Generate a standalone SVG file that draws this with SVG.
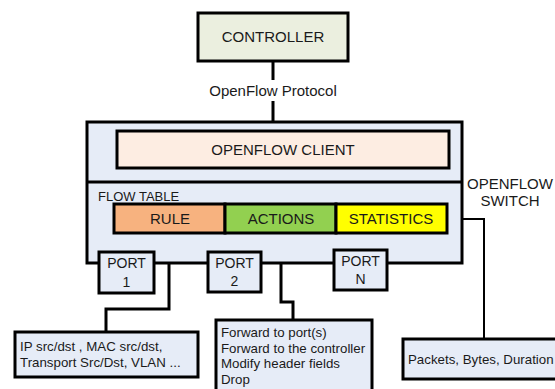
<svg xmlns="http://www.w3.org/2000/svg" width="555" height="389" viewBox="0 0 555 389">
<style>
text{font-family:"Liberation Sans",Arial,sans-serif;fill:#1a1a1a}
.b{stroke:#000;stroke-width:3}
.ln{fill:none;stroke:#000;stroke-width:3}
.thin{fill:none;stroke:#000;stroke-width:2}
.c{text-anchor:middle}
.f15{font-size:15px}
.f14{font-size:14px}
.f13{font-size:13.3px}
</style>
<rect width="555" height="389" fill="#fff"/>
<g id="connectors">
<path class="ln" d="M273,61V80M273,101V122"/>
<path class="ln" d="M169,233V309H106V332"/>
<path class="ln" d="M281,233V302H293V320"/>
<path class="thin" d="M447,219H484V339"/>
</g>
<text class="c f15" x="273" y="96">OpenFlow Protocol</text>
<g id="controller">
<rect class="b" x="198" y="13" width="150" height="48" fill="#ebefdf"/>
<text class="c f15" x="273" y="42">CONTROLLER</text>
</g>
<g id="switch">
<rect class="b" x="87" y="122" width="375" height="141" fill="#e6ecf7"/>
<line class="ln" x1="87" y1="182" x2="462" y2="182"/>
<text x="98" y="201" style="font-size:13px">FLOW TABLE</text>
</g>
<g id="switch-label">
<text class="c f15" x="510" y="189">OPENFLOW</text>
<text class="c f15" x="510" y="206">SWITCH</text>
</g>
<g id="client">
<rect class="b" x="117" y="131" width="332" height="37" fill="#fdede2"/>
<text class="c f15" x="283" y="155">OPENFLOW CLIENT</text>
</g>
<g id="rule">
<rect class="b" x="114" y="204" width="111" height="29" fill="#f7b27f"/>
<text class="c f15" x="170" y="224">RULE</text>
</g>
<g id="actions">
<rect class="b" x="225" y="204" width="111" height="29" fill="#92d050"/>
<text class="c f15" x="281" y="224">ACTIONS</text>
</g>
<g id="statistics">
<rect class="b" x="336" y="204" width="111" height="29" fill="#ffff00"/>
<text class="c f15" x="391" y="224">STATISTICS</text>
</g>
<g id="port1">
<rect class="b" x="99" y="252" width="55" height="41" fill="#e6ecf7"/>
<text class="c f14" x="126.5" y="268">PORT</text>
<text class="c f14" x="126.5" y="287">1</text>
</g>
<g id="port2">
<rect class="b" x="208" y="252" width="53" height="40" fill="#e6ecf7"/>
<text class="c f14" x="234.5" y="268">PORT</text>
<text class="c f14" x="234.5" y="286">2</text>
</g>
<g id="portN">
<rect class="b" x="334" y="250" width="53" height="40" fill="#e6ecf7"/>
<text class="c f14" x="360.5" y="266">PORT</text>
<text class="c f14" x="360.5" y="284">N</text>
</g>
<g id="rule-fields">
<rect class="b" x="15" y="332" width="183" height="45" fill="#e6ecf7"/>
<text class="f13" x="20" y="351">IP src/dst , MAC src/dst,</text>
<text class="f13" x="20" y="367">Transport Src/Dst, VLAN ...</text>
</g>
<g id="action-list">
<rect class="b" x="216" y="320" width="156" height="75" fill="#e6ecf7"/>
<text class="f13" x="221" y="337">Forward to port(s)</text>
<text class="f13" x="221" y="353">Forward to the controller</text>
<text class="f13" x="221" y="368">Modify header fields</text>
<text class="f13" x="221" y="384">Drop</text>
</g>
<g id="counters">
<rect class="b" x="403" y="339" width="160" height="40" fill="#e6ecf7"/>
<text class="f13" x="408" y="364">Packets, Bytes, Duration</text>
</g>
</svg>
